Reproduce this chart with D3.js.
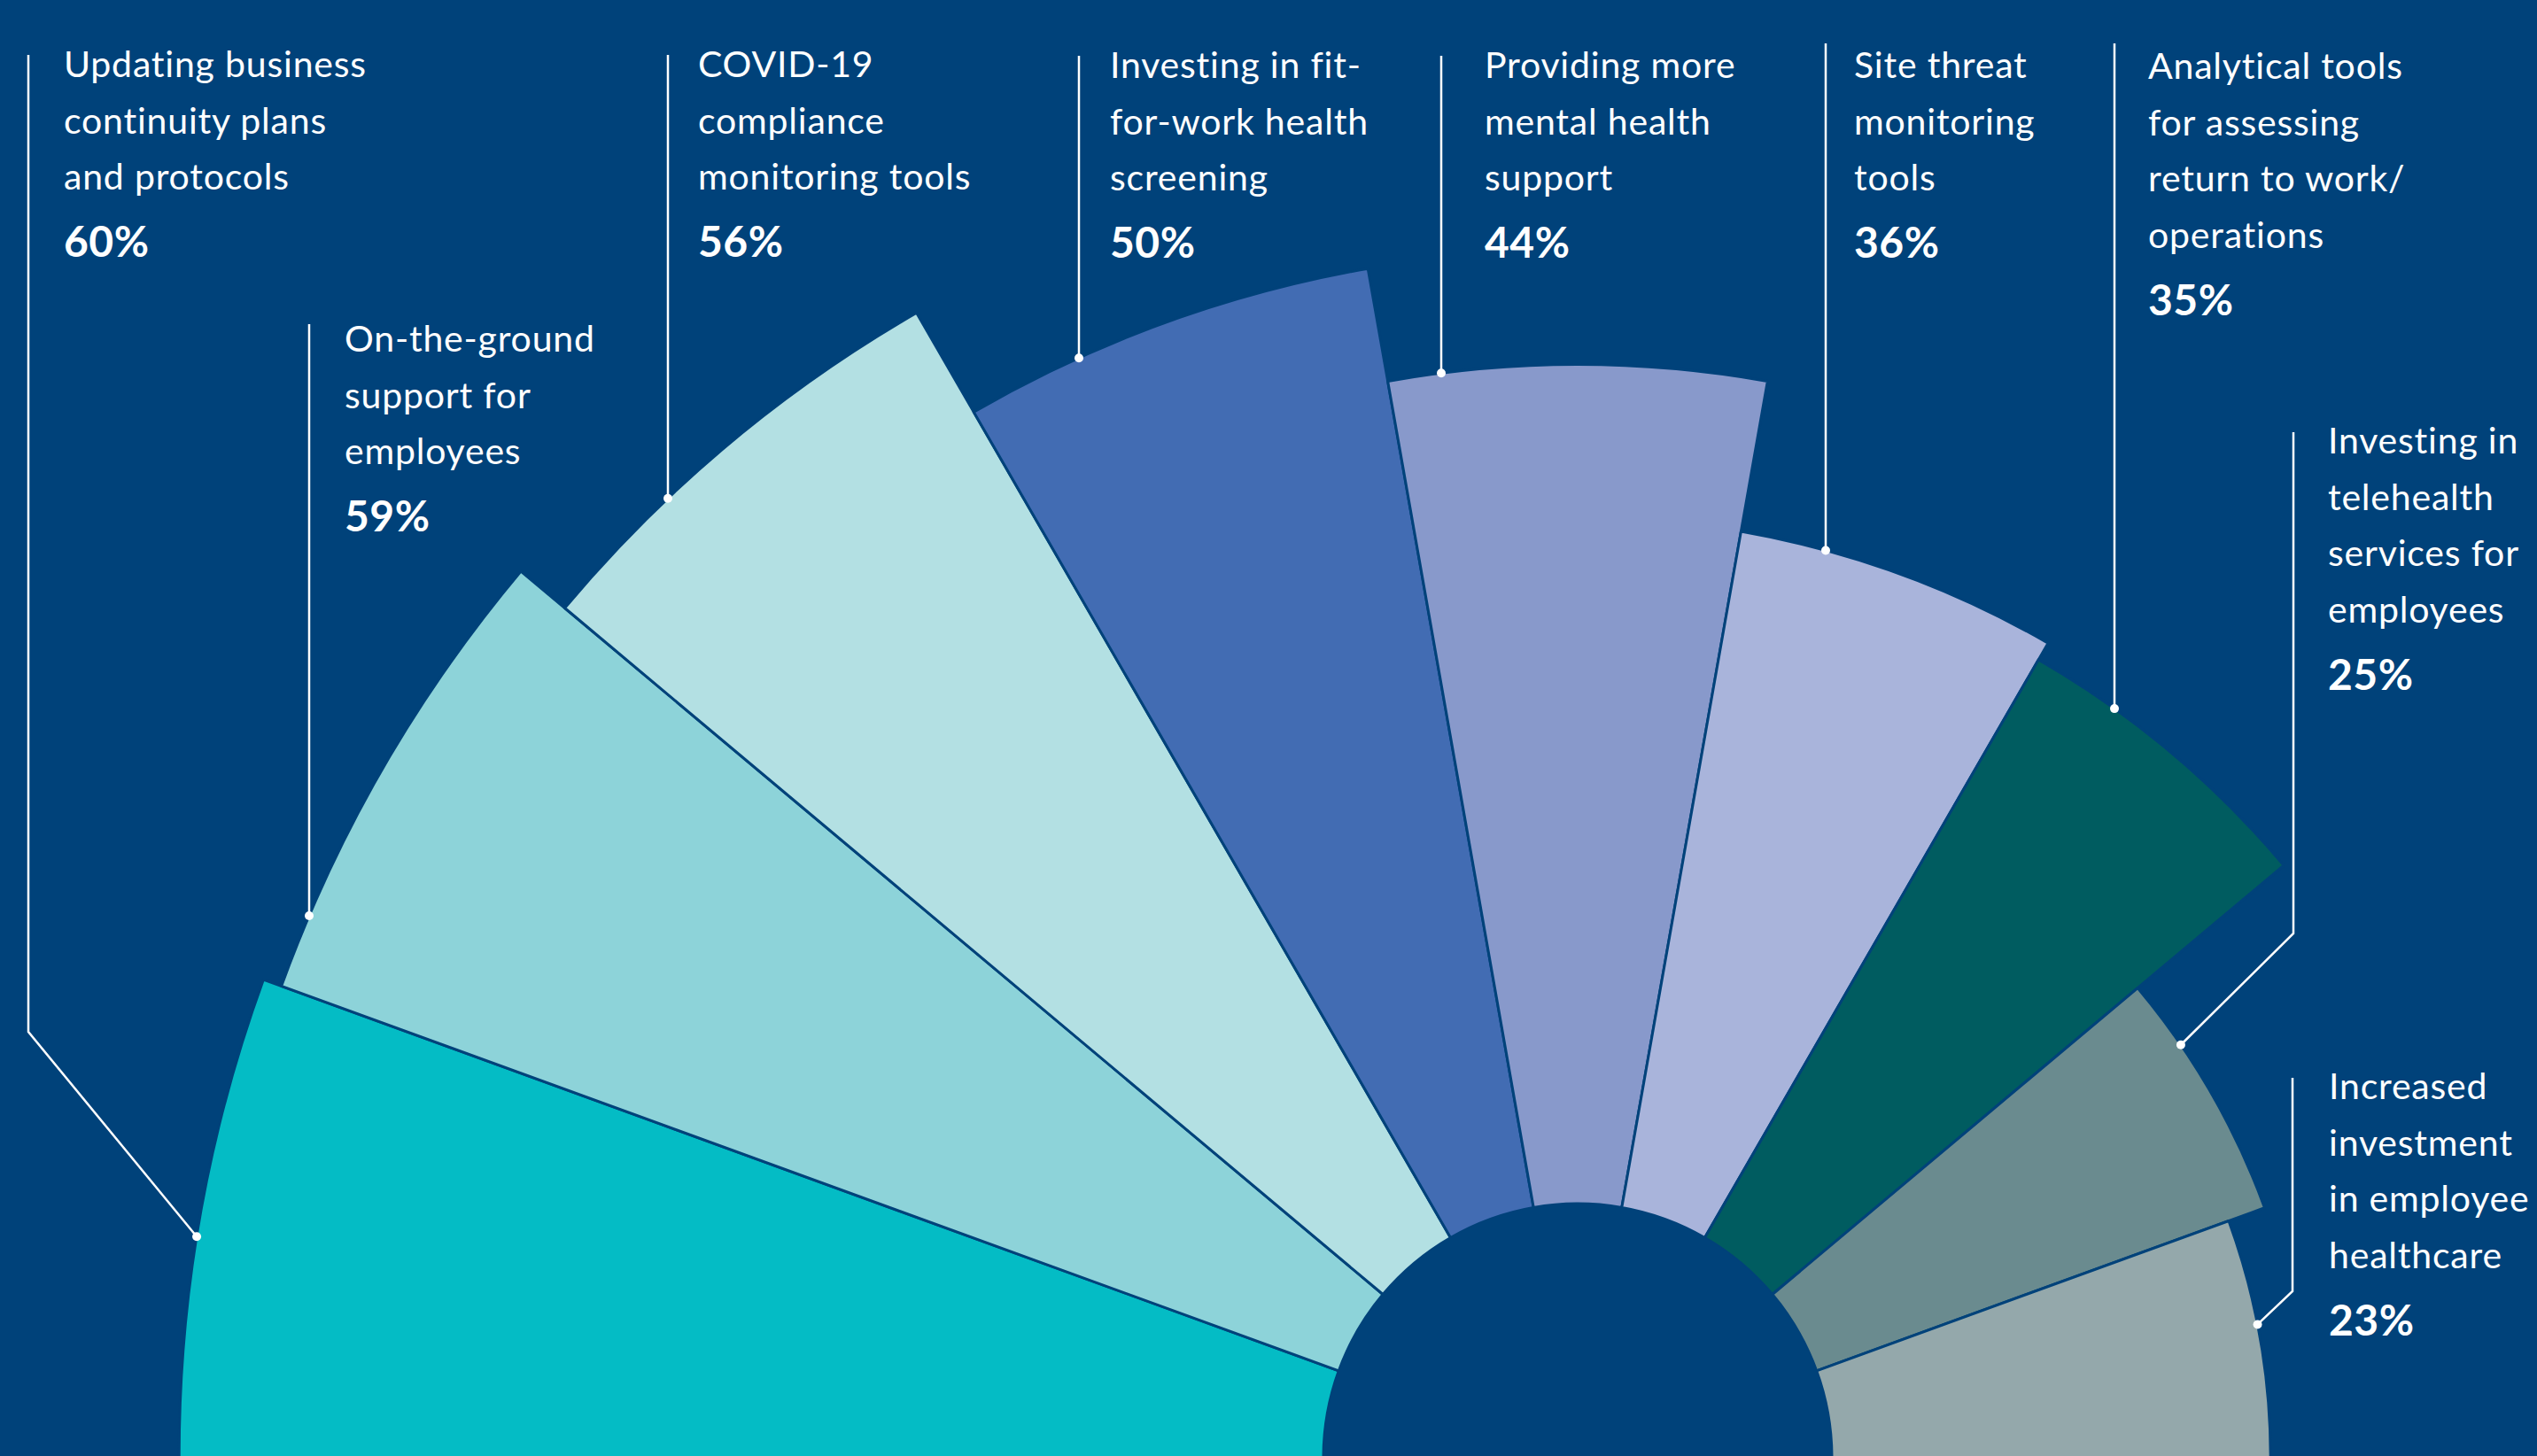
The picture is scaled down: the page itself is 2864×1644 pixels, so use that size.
<!DOCTYPE html>
<meta charset="utf-8">
<style>
html, body { margin: 0; padding: 0; background: #00427a; }
svg { display: block; }
.label text { fill: #fff; font-family: Lato, "Open Sans", sans-serif; }
.label .line { font-size: 41px; font-weight: 400; letter-spacing: 0.8px; }
.label .pct { font-size: 48px; font-weight: 700; letter-spacing: 0.5px; }
.leader { fill: none; stroke: #fff; stroke-width: 2.5px; }
</style>
<svg width="2864" height="1644" id="chart"></svg>
<script src="https://cdnjs.cloudflare.com/ajax/libs/d3/7.8.5/d3.min.js"></script>
<script>

// data
var categories = [
  ["Updating business", "continuity plans", "and protocols"],
  ["On-the-ground", "support for", "employees"],
  ["COVID-19", "compliance", "monitoring tools"],
  ["Investing in fit-", "for-work health", "screening"],
  ["Providing more", "mental health", "support"],
  ["Site threat", "monitoring", "tools"],
  ["Analytical tools", "for assessing", "return to work/", "operations"],
  ["Investing in", "telehealth", "services for", "employees"],
  ["Increased", "investment", "in employee", "healthcare"]
];
var values = [60, 59, 56, 50, 44, 36, 35, 25, 23];
var colors = ["#04bcc5", "#8dd3d9", "#b3e0e3", "#426cb3", "#8899cb",
              "#a9b4db", "#005c60", "#6a8b8f", "#94a8ab"];

// label layout: leader x, leader top, text x, first baseline
var labelLayout = [
  { lx: 32,   top: 62,   tx: 72,   ty: 87,   bendY: 1165, dotDeg: 9.1 },
  { lx: 349,  top: 366,  tx: 389,  ty: 397 },
  { lx: 754,  top: 62,   tx: 788,  ty: 87 },
  { lx: 1218, top: 63,   tx: 1253, ty: 88 },
  { lx: 1627, top: 63,   tx: 1676, ty: 88 },
  { lx: 2061, top: 49,   tx: 2093, ty: 88 },
  { lx: 2387, top: 49,   tx: 2425, ty: 89 },
  { lx: 2589, top: 488,  tx: 2628, ty: 512,  bendY: 1054, dotDeg: 145.6 },
  { lx: 2588, top: 1217, tx: 2629, ty: 1241, bendY: 1458, dotDeg: 168.9 }
];

var svg = d3.select("#chart"),
    width = +svg.attr("width"),
    height = +svg.attr("height");

var bg = "#00427a";
var cx = 1781, cy = 1646;
var lineStep = 63.5;

var r = d3.scaleLinear().domain([0, 100]).range([287, 2440]);
var slice = Math.PI / values.length;

var arc = d3.arc()
    .innerRadius(r(0))
    .outerRadius(function(d) { return r(d.value); })
    .startAngle(function(d) { return -Math.PI / 2 + d.i * slice; })
    .endAngle(function(d) { return -Math.PI / 2 + (d.i + 1) * slice; });

var data = values.map(function(v, i) {
  return { i: i, value: v, lines: categories[i], color: colors[i], lay: labelLayout[i] };
});

svg.append("rect").attr("width", width).attr("height", height).attr("fill", bg);

var g = svg.append("g").attr("transform", "translate(" + cx + "," + cy + ")");

g.selectAll("path.slice")
  .data(data)
  .enter().append("path")
    .attr("class", "slice")
    .attr("d", arc)
    .attr("fill", function(d) { return d.color; })
    .attr("stroke", bg)
    .attr("stroke-width", 3)
    .attr("stroke-linejoin", "round");

g.append("circle").attr("r", r(0)).attr("fill", bg);

// where the leader meets the outer arc
function dotPos(d) {
  var R = r(d.value);
  if (d.lay.dotDeg != null) {
    var a = d.lay.dotDeg * Math.PI / 180;
    return [cx - R * Math.cos(a), cy - R * Math.sin(a)];
  }
  var dx = d.lay.lx - cx;
  return [d.lay.lx, cy - Math.sqrt(R * R - dx * dx)];
}

var label = svg.selectAll("g.label")
  .data(data)
  .enter().append("g")
    .attr("class", "label");

label.append("path")
  .attr("class", "leader")
  .attr("d", function(d) {
    var p = dotPos(d);
    var pts = [[d.lay.lx, d.lay.top]];
    if (d.lay.bendY != null) pts.push([d.lay.lx, d.lay.bendY]);
    else pts.push([d.lay.lx, p[1]]);
    pts.push(p);
    return d3.line()(pts);
  });

label.append("circle")
  .attr("cx", function(d) { return dotPos(d)[0]; })
  .attr("cy", function(d) { return dotPos(d)[1]; })
  .attr("r", 5)
  .attr("fill", "#fff");

label.each(function(d) {
  var sel = d3.select(this);
  d.lines.forEach(function(t, k) {
    sel.append("text")
      .attr("class", "line")
      .attr("x", d.lay.tx)
      .attr("y", d.lay.ty + k * lineStep)
      .text(t);
  });
  sel.append("text")
    .attr("class", "pct")
    .attr("x", d.lay.tx)
    .attr("y", d.lay.ty + (d.lines.length - 1) * lineStep + 76)
    .text(d.value + "%");
});

</script>
